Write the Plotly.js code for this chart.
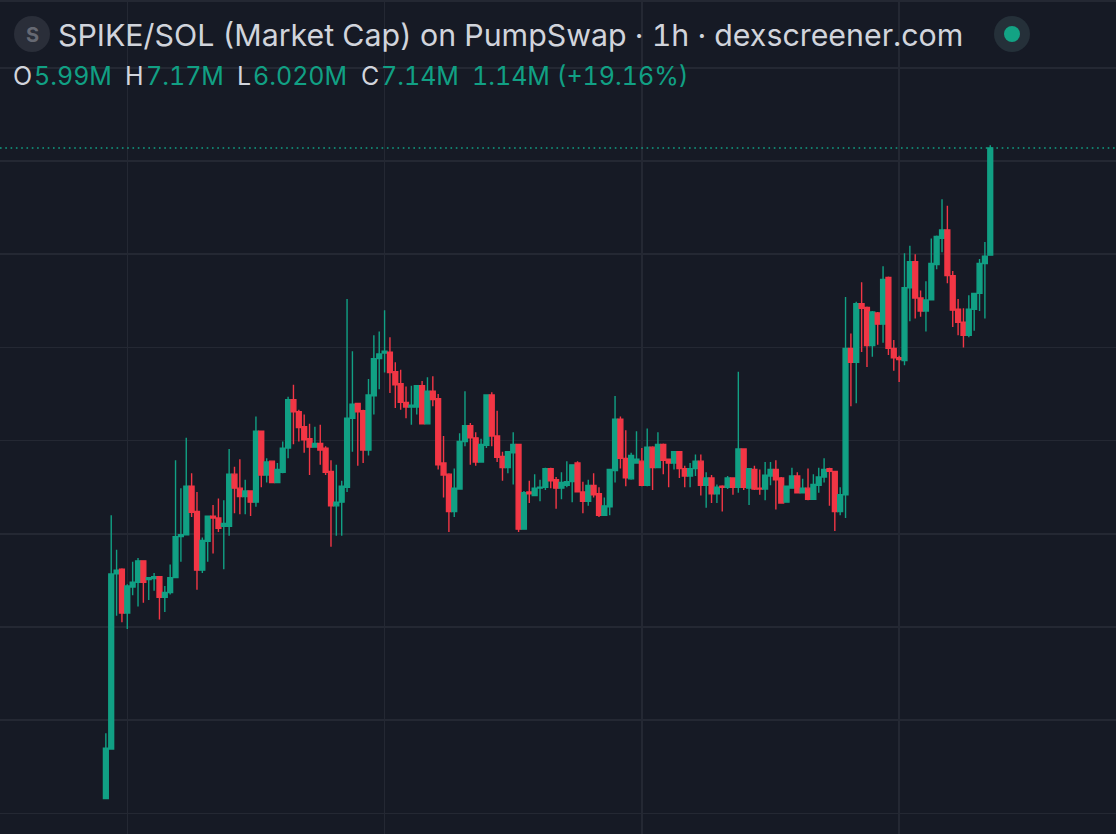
<!DOCTYPE html>
<html>
<head>
<meta charset="utf-8">
<script src="https://cdn.plot.ly/plotly-3.0.1.min.js"></script>
<style>html,body{margin:0;padding:0;background:#161a25;overflow:hidden}#chart{width:1116px;height:834px}
#chart text{font-variant-numeric:tabular-nums;font-feature-settings:"tnum" 1}</style>
</head>
<body>
<div id="chart"></div>
<script>
// Market cap in millions, hourly candles
const opens = [
0.16,0.69,2.57,2.62,2.15,2.43,2.48,2.71,2.51,2.52,
2.54,2.32,2.37,2.53,2.97,2.99,3.51,3.24,2.61,2.92,
3.19,3.17,3.08,3.08,3.64,3.49,3.40,3.46,3.34,4.10,
3.63,3.78,3.55,3.66,3.92,4.44,4.31,4.15,4.02,3.93,
3.97,3.92,3.67,3.30,3.34,3.50,4.24,4.40,4.32,3.90,
4.48,4.88,4.94,4.95,4.74,4.61,4.41,4.36,4.36,4.59,
4.18,4.53,4.45,3.76,3.64,3.24,3.48,3.99,4.16,4.03,
3.77,3.95,4.49,4.05,3.83,3.71,3.87,3.96,3.05,3.45,
3.41,3.49,3.50,3.70,3.58,3.49,3.52,3.56,3.76,3.45,
3.35,3.52,3.43,3.20,3.29,3.68,4.23,3.81,3.59,3.76,
3.78,3.52,3.93,3.71,3.96,3.80,3.76,3.88,3.70,3.62,
3.70,3.78,3.52,3.60,3.43,3.51,3.50,3.60,3.50,3.91,
3.49,3.69,3.49,3.48,3.62,3.69,3.60,3.34,3.49,3.62,
3.44,3.49,3.37,3.52,3.61,3.70,3.67,3.24,3.42,4.99,
4.84,5.47,5.43,5.02,5.37,5.25,5.75,4.99,4.89,4.86,
5.64,5.92,5.53,5.39,5.51,5.89,6.17,6.26,5.77,5.41,
5.27,5.13,5.41,5.58,5.90,5.99];
const highs = [
0.86,3.20,2.83,2.63,2.46,2.70,2.74,2.71,2.53,2.58,
2.54,2.44,2.67,3.79,3.49,4.03,3.65,3.45,2.96,3.19,
3.31,3.38,3.36,3.91,3.72,3.80,3.58,3.46,4.26,4.10,
3.81,3.78,3.76,3.99,4.47,4.60,4.33,4.28,4.18,4.15,
4.17,3.94,3.79,3.74,3.57,5.52,4.96,4.40,4.33,4.66,
5.13,5.17,5.40,5.11,4.84,4.76,4.58,4.59,4.59,4.64,
4.68,4.69,4.50,4.05,3.65,3.70,4.08,4.53,4.19,4.09,
4.02,4.49,4.52,4.32,3.88,3.89,4.09,3.96,3.46,3.57,
3.64,3.58,3.71,3.71,3.61,3.66,3.78,3.74,3.78,3.56,
3.58,3.65,3.50,3.39,3.69,4.48,4.26,4.11,3.87,4.10,
3.92,4.13,3.94,4.09,3.97,3.80,3.89,3.89,3.73,3.76,
3.85,3.85,3.66,3.63,3.53,3.52,3.62,3.60,4.74,3.91,
3.70,3.73,3.69,3.77,3.77,3.79,3.61,3.51,3.71,3.66,
3.59,3.70,3.64,3.71,3.81,3.71,3.67,3.50,5.54,5.15,
5.49,5.70,5.44,5.39,5.38,5.87,5.76,5.08,4.91,6.01,
6.09,6.00,5.61,5.71,6.17,6.20,6.59,6.52,5.82,5.52,
5.42,5.56,5.58,5.95,6.13,7.17];
const lows = [
0.16,0.69,2.12,2.05,1.98,2.34,2.22,2.26,2.29,2.39,
2.08,2.16,2.35,2.53,2.70,2.99,3.18,2.40,2.58,2.70,
2.79,3.02,2.62,2.98,3.22,3.21,3.21,3.19,3.29,3.50,
3.55,3.55,3.55,3.65,3.81,3.96,3.99,3.87,3.63,3.93,
3.74,3.63,2.86,2.98,2.98,3.45,3.88,3.73,3.76,3.84,
4.28,4.55,4.73,4.51,4.35,4.33,4.24,4.17,4.28,4.18,
4.18,4.37,3.69,3.39,3.02,3.18,3.48,3.94,3.74,3.73,
3.77,3.92,3.94,3.77,3.57,3.65,3.53,3.02,3.05,3.33,
3.41,3.35,3.47,3.49,3.27,3.37,3.50,3.34,3.45,3.22,
3.30,3.39,3.18,3.20,3.20,3.55,3.70,3.51,3.58,3.76,
3.51,3.51,3.47,3.71,3.64,3.50,3.69,3.60,3.50,3.50,
3.62,3.41,3.28,3.33,3.33,3.24,3.48,3.42,3.44,3.47,
3.31,3.47,3.42,3.36,3.52,3.26,3.33,3.34,3.49,3.44,
3.44,3.36,3.37,3.44,3.55,3.30,3.03,3.20,3.17,4.37,
4.40,4.95,4.79,4.90,5.03,5.05,4.92,4.75,4.63,4.81,
5.28,5.31,5.33,5.17,5.51,5.84,6.02,5.69,5.22,5.13,
5.00,5.11,5.18,5.39,5.31,6.02];
const closes = [
0.70,2.57,2.61,2.15,2.44,2.48,2.71,2.48,2.53,2.54,
2.32,2.37,2.53,2.97,2.99,3.51,3.23,2.61,2.93,3.19,
3.17,3.06,3.11,3.64,3.49,3.40,3.46,3.34,4.10,3.63,
3.77,3.55,3.69,3.92,4.44,4.31,4.14,4.01,3.93,3.97,
3.90,3.66,3.30,3.34,3.51,4.24,4.39,4.31,3.90,4.49,
4.88,4.93,4.96,4.73,4.60,4.41,4.36,4.38,4.59,4.18,
4.53,4.44,3.74,3.63,3.24,3.49,3.99,4.16,4.03,3.77,
3.96,4.49,4.05,3.82,3.71,3.88,3.96,3.05,3.44,3.43,
3.49,3.50,3.70,3.57,3.49,3.55,3.56,3.74,3.45,3.35,
3.52,3.42,3.20,3.30,3.69,4.23,3.81,3.60,3.84,3.80,
3.52,3.93,3.71,3.96,3.79,3.76,3.88,3.70,3.62,3.70,
3.78,3.52,3.60,3.43,3.50,3.50,3.60,3.50,3.91,3.50,
3.70,3.48,3.48,3.63,3.69,3.58,3.33,3.51,3.62,3.44,
3.49,3.37,3.53,3.61,3.69,3.67,3.24,3.42,4.99,4.84,
5.47,5.42,5.02,5.38,5.25,5.73,4.99,4.89,4.87,5.64,
5.92,5.53,5.39,5.51,5.90,6.19,6.26,5.77,5.40,5.27,
5.13,5.41,5.58,5.90,5.98,7.14];
const candleIndex = opens.map((_, i) => i);

const titleText = "SPIKE/SOL (Market Cap) on PumpSwap · 1h · dexscreener.com";
const ohlcLetters = ["O", "H", "L", "C"];
const ohlcValues = ["5.99M", "7.17M", "6.020M", "7.14M"];
const changeText = "1.14M (+19.16%)";

const W = 1116, H = 834;
const UP = "#11a084", DOWN = "#f23645", TXT = "#d1d4dc", GRID = "#242833", FONT = "Inter, Roboto, sans-serif";
const px = v => v / W, py = v => 1 - v / H;

function label(text, x, y, color, size) {
  return {text, x: px(x), y: py(y), xref: "paper", yref: "paper", xanchor: "left", yanchor: "middle",
          showarrow: false, align: "left", font: {family: FONT, size, color}, borderpad: 0};
}
function disc(cx, cy, r, fill) {
  return {type: "circle", xref: "paper", yref: "paper", x0: px(cx - r), x1: px(cx + r),
          y0: py(cy + r), y1: py(cy - r), fillcolor: fill, line: {width: 0}, layer: "above"};
}

const ohlcX = [[12, 33], [124, 145], [236, 252], [360, 380]];
const annotations = [label(titleText, 57, 35, TXT, 30.33)];
ohlcLetters.forEach((l, i) => {
  annotations.push(label(l, ohlcX[i][0], 76, TXT, 25));
  annotations.push(label(ohlcValues[i], ohlcX[i][1], 76, UP, 25));
});
annotations.push(label(changeText, 471, 76, UP, 25));
annotations.push({text: "<b>S</b>", x: px(32), y: py(35), xref: "paper", yref: "paper", showarrow: false,
                  xanchor: "center", yanchor: "middle", font: {family: FONT, size: 20, color: "#666973"}});

const shapes = [
  {type: "rect", xref: "paper", yref: "paper", x0: 0, x1: 1, y0: py(2), y1: 1, fillcolor: GRID, line: {width: 0}, layer: "below"},
  {type: "line", xref: "paper", x0: 0, x1: 1, yref: "y", y0: closes[closes.length - 1], y1: closes[closes.length - 1],
   line: {color: UP, width: 1.6, dash: "1.6px,3.7px"}, layer: "above"},
  disc(32, 34, 18, "#2a2e39"),
  disc(1012, 34, 18, "#253039"),
  disc(1012, 34, 8, "#13a384")
];

const trace = {
  type: "candlestick", x: candleIndex, open: opens, high: highs, low: lows, close: closes,
  increasing: {line: {color: UP, width: 1.4}, fillcolor: UP},
  decreasing: {line: {color: DOWN, width: 1.4}, fillcolor: DOWN},
  whiskerwidth: 0, hoverinfo: "skip"
};

const layout = {
  width: W, height: H, margin: {l: 0, r: 0, t: 0, b: 0}, paper_bgcolor: "#161a25", plot_bgcolor: "#161a25",
  showlegend: false, boxgap: 0.1, boxgroupgap: 0,
  xaxis: {range: [-19.75, 188.46], tick0: 4, dtick: 48, tickmode: "linear", showgrid: true, gridcolor: GRID, gridwidth: 1.5,
          zeroline: false, showticklabels: false, ticks: "", showline: false, rangeslider: {visible: false}, fixedrange: true},
  yaxis: {range: [-0.221, 8.728], tick0: 0, dtick: 1, tickmode: "linear", showgrid: true, gridcolor: GRID, gridwidth: 1.5,
          zeroline: false, showticklabels: false, ticks: "", showline: false, fixedrange: true},
  annotations, shapes
};
Plotly.newPlot("chart", [trace], layout, {displayModeBar: false, staticPlot: true});
</script>
</body>
</html>
